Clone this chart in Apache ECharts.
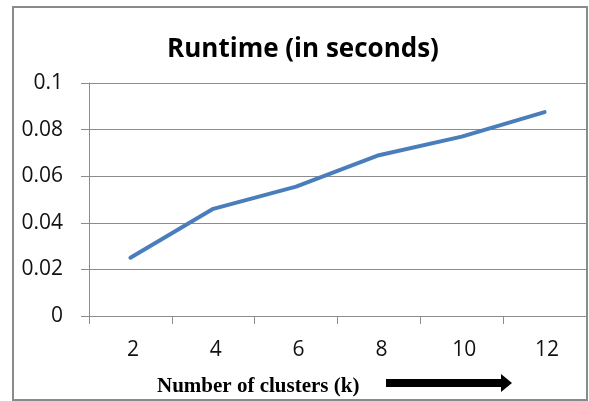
<!DOCTYPE html>
<html>
<head>
<meta charset="utf-8">
<script src="https://cdn.jsdelivr.net/npm/echarts@6/dist/echarts.min.js"></script>
<style>
  html, body { margin: 0; padding: 0; background: #fff; }
  #chart { width: 589px; height: 401px; }
</style>
</head>
<body>
<div id="chart"></div>
<script>
// Cluster counts on the x axis
const clusters = ['2', '4', '6', '8', '10', '12'];
// Runtime in seconds for each cluster count
const runtime = [0.025, 0.046, 0.0555, 0.069, 0.077, 0.0875];
// Y axis ticks
const yTicks = [0, 0.02, 0.04, 0.06, 0.08, 0.1];

const chart = echarts.init(document.getElementById('chart'), null, { renderer: 'canvas' });

const gridColor = '#8c8c8c';
const labelFont = '"Open Sans", "Noto Sans", sans-serif';

chart.setOption({
  backgroundColor: '#fff',
  animation: false,
  title: {
    text: 'Runtime (in seconds)',
    left: 298,
    top: 32,
    textAlign: 'center',
    textStyle: {
      fontFamily: '"Open Sans", "Noto Sans", sans-serif',
      fontWeight: 'bold',
      fontSize: 26,
      color: '#000'
    }
  },
  grid: { left: 89, right: 3, top: 83, bottom: 85 },
  xAxis: {
    type: 'category',
    data: clusters,
    boundaryGap: true,
    axisLine: { show: true, lineStyle: { color: gridColor, width: 1 } },
    axisTick: { show: true, alignWithLabel: false, length: 8, lineStyle: { color: gridColor } },
    axisLabel: {
      color: '#111', fontFamily: labelFont, fontSize: 21, margin: 24,
      padding: [0, 0, 0, 5]
    },
    splitLine: { show: false }
  },
  yAxis: {
    type: 'value',
    min: 0,
    max: 0.1,
    interval: 0.02,
    axisLine: { show: true, lineStyle: { color: gridColor, width: 1 } },
    axisTick: { show: true, length: 8, lineStyle: { color: gridColor } },
    axisLabel: {
      color: '#111', fontFamily: labelFont, fontSize: 21, margin: 26,
      formatter: v => {
        const t = yTicks.find(x => Math.abs(x - v) < 1e-9);
        return t === undefined ? '' : String(+t.toFixed(2));
      }
    },
    splitLine: { show: true, lineStyle: { color: gridColor, width: 1 } }
  },
  series: [{
    type: 'line',
    data: runtime,
    showSymbol: false,
    symbol: 'none',
    lineStyle: { color: '#4a7ebb', width: 4, cap: 'round', join: 'round' }
  }],
  graphic: [
    // outer chart border
    {
      type: 'rect',
      shape: { x: 13, y: 7, width: 574, height: 393 },
      style: { fill: 'none', stroke: '#8a8a8a', lineWidth: 2 },
      silent: true
    },
    // axis caption
    {
      type: 'text',
      x: 157,
      y: 387,
      style: {
        text: 'Number of clusters (k)',
        fontFamily: '"Liberation Serif", "DejaVu Serif", serif',
        fontWeight: 'bold',
        fontSize: 21,
        fill: '#000',
        verticalAlign: 'middle'
      }
    },
    // direction arrow
    {
      type: 'polygon',
      shape: {
        points: [[386, 379], [501, 379], [501, 374], [512, 383], [501, 392], [501, 387], [386, 387]]
      },
      style: { fill: '#000' },
      silent: true
    }
  ]
});
</script>
</body>
</html>
